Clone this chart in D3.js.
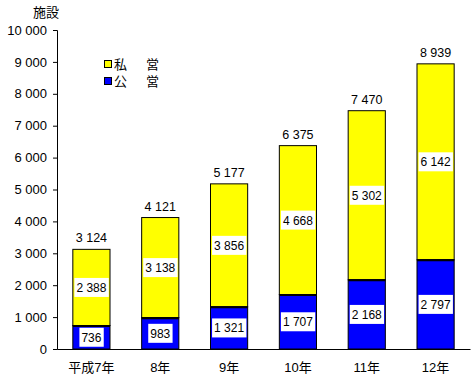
<!DOCTYPE html>
<html lang="ja">
<head>
<meta charset="UTF-8">
<title>施設</title>
<script src="https://cdn.jsdelivr.net/npm/d3@7"></script>
<style>
    body { margin: 0; background: #fff; }
    text { font-family: "Liberation Sans", "Noto Sans CJK JP", sans-serif; font-size: 12px; fill: #000; }
</style>
</head>
<body>
<svg width="476" height="377"></svg>
<script>
    var years = ["平成7年", "8年", "9年", "10年", "11年", "12年"];
    var publicVals = [736, 983, 1321, 1707, 2168, 2797];
    var privateVals = [2388, 3138, 3856, 4668, 5302, 6142];
    var totals = [3124, 4121, 5177, 6375, 7470, 8939];
    var yTicks = [0, 1000, 2000, 3000, 4000, 5000, 6000, 7000, 8000, 9000, 10000];

    var svg = d3.select("svg");
    var plotLeft = 57, plotRight = 470, plotTop = 30, plotBottom = 349;

    var fmt = function(v) { return d3.format(",")(v).replace(/,/g, " "); };

    var x = d3.scaleBand().domain(years).range([plotLeft, plotRight]).paddingInner(0.46).paddingOuter(0.23);
    var y = d3.scaleLinear().domain([0, 10000]).range([plotBottom, plotTop]);

    // y axis
    var yAxis = svg.append("g")
        .attr("transform", "translate(" + plotLeft + ",0)")
        .call(d3.axisLeft(y).tickValues(yTicks).tickSize(4).tickPadding(6).tickFormat(fmt));
    yAxis.select(".domain").attr("stroke", "#000");
    yAxis.selectAll("text").style("font-size", "13px");

    svg.append("text").attr("x", 46).attr("y", 17).attr("text-anchor", "middle").style("font-size", "13px").text("施設");

    var bars = svg.selectAll(".bar").data(years).enter().append("g");

    // private (yellow, top)
    bars.append("rect")
        .attr("x", function(d) { return x(d); })
        .attr("width", x.bandwidth())
        .attr("y", function(d, i) { return y(totals[i]); })
        .attr("height", function(d, i) { return y(publicVals[i]) - y(totals[i]); })
        .attr("fill", "#ffff00").attr("stroke", "#000").attr("stroke-width", 1);

    // public (blue, bottom)
    bars.append("rect")
        .attr("x", function(d) { return x(d); })
        .attr("width", x.bandwidth())
        .attr("y", function(d, i) { return y(publicVals[i]); })
        .attr("height", function(d, i) { return y(0) - y(publicVals[i]); })
        .attr("fill", "#0000ff").attr("stroke", "#000").attr("stroke-width", 1);

    bars.append("line")
        .attr("x1", function(d) { return x(d); })
        .attr("x2", function(d) { return x(d) + x.bandwidth(); })
        .attr("y1", function(d, i) { return y(publicVals[i]) + 0.5; })
        .attr("y2", function(d, i) { return y(publicVals[i]) + 0.5; })
        .attr("stroke", "#000").attr("stroke-width", 2);

    function boxLabel(g, cx, cy, txt) {
        var t = g.append("text").attr("x", cx).attr("y", cy + 4.5).attr("text-anchor", "middle").text(txt);
        var b = t.node().getBBox();
        g.insert("rect", function() { return t.node(); })
            .attr("x", b.x - 2).attr("y", cy - 9.5).attr("width", b.width + 4).attr("height", 19)
            .attr("fill", "#fff");
    }

    bars.each(function(d, i) {
        var g = d3.select(this);
        var cx = x(d) + x.bandwidth() / 2;
        boxLabel(g, cx, (y(0) + y(publicVals[i])) / 2, fmt(publicVals[i]));
        boxLabel(g, cx, (y(publicVals[i]) + y(totals[i])) / 2, fmt(privateVals[i]));
        g.append("text").attr("x", cx).attr("y", y(totals[i]) - 7).attr("text-anchor", "middle")
            .style("font-size", "12.5px").text(fmt(totals[i]));
    });

    // x axis
    var xAxis = svg.append("g")
        .attr("transform", "translate(0," + plotBottom + ")")
        .call(d3.axisBottom(x).tickSize(0).tickPadding(14));
    xAxis.select(".domain").attr("stroke", "#000");
    xAxis.selectAll("text").style("font-size", "13px");

    // legend
    var legend = [["私", "営", "#ffff00"], ["公", "営", "#0000ff"]];
    legend.forEach(function(l, i) {
        var ly = 64 + i * 17;
        svg.append("rect").attr("x", 104.5).attr("y", ly - 3.5).attr("width", 7).attr("height", 7)
            .attr("fill", l[2]).attr("stroke", "#000");
        svg.append("text").attr("x", 114).attr("y", ly + 4.5).style("font-size", "13px").text(l[0]);
        svg.append("text").attr("x", 146).attr("y", ly + 4.5).style("font-size", "13px").text(l[1]);
    });
</script>
</body>
</html>
